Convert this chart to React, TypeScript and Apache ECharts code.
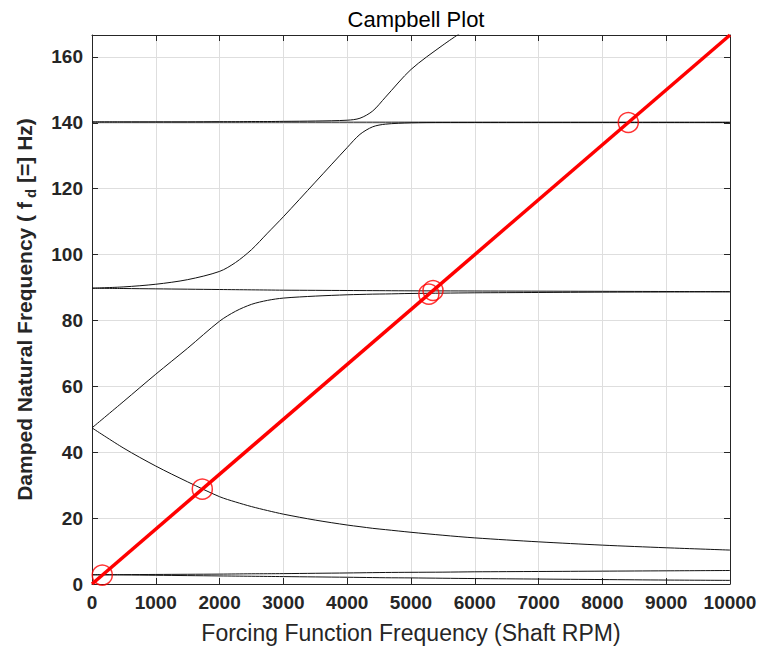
import React, { useEffect, useRef } from "react";
import * as echarts from "echarts";

const rpm = [0, 500, 1000, 1500, 2000, 2250, 2500, 2750, 3000, 3500, 4000, 4200, 4400, 4600, 5000, 5500, 6000, 7000, 8000, 9000, 10000];

const mode1Low = [2.8, 2.75, 2.65, 2.55, 2.45, 2.4, 2.35, 2.3, 2.25, 2.15, 2.05, 2.0, 1.95, 1.9, 1.85, 1.75, 1.65, 1.5, 1.35, 1.2, 1.1];
const mode1High = [2.8, 2.85, 2.9, 2.95, 3.0, 3.05, 3.1, 3.12, 3.15, 3.25, 3.35, 3.4, 3.45, 3.5, 3.55, 3.6, 3.7, 3.8, 3.9, 4.0, 4.1];
const mode2Low = [47.4, 41.2, 35.8, 31.0, 26.5, 24.9, 23.5, 22.3, 21.2, 19.4, 17.9, 17.4, 16.9, 16.5, 15.7, 14.8, 14.0, 12.8, 11.8, 11.0, 10.3];
const mode2High = [47.4, 55.5, 63.7, 71.6, 79.8, 82.8, 84.9, 86.1, 86.8, 87.4, 87.8, 87.9, 88.0, 88.05, 88.2, 88.3, 88.4, 88.5, 88.6, 88.65, 88.7];
const mode3Flat = [89.8, 89.7, 89.6, 89.5, 89.4, 89.35, 89.3, 89.25, 89.2, 89.15, 89.1, 89.08, 89.06, 89.04, 89.0, 88.98, 88.95, 88.9, 88.85, 88.8, 88.75];
const mode3Rise = [89.8, 90.2, 91.0, 92.4, 94.9, 97.6, 101.5, 106.5, 111.5, 122.0, 132.5, 136.5, 138.8, 139.6, 140.0, 140.1, 140.1, 140.1, 140.1, 140.1, 140.1];
const mode4Flat = [140.2, 140.2, 140.2, 140.2, 140.2, 140.2, 140.2, 140.2, 140.2, 140.2, 140.2, 140.2, 140.2, 140.2, 140.2, 140.2, 140.2, 140.2, 140.2, 140.2, 140.2];
const mode4Rise = [140.3, 140.3, 140.3, 140.3, 140.35, 140.35, 140.4, 140.4, 140.45, 140.55, 140.8, 141.4, 143.6, 147.8, 156.2, 163.6, 170.2, null, null, null, null];

const oneXLine = [[0, 0], [10000, 10000 / 60]];
const crossings = [[161, 2.7], [1729, 28.8], [5280, 88.0], [5345, 89.1], [8406, 140.1]];

const xTicksInterval = 1000;
const yTicksInterval = 20;

const FONT = "'Liberation Sans', Arial, Helvetica, sans-serif";
const AXIS_COLOR = "#262626";

const pair = (vals: (number | null)[]) => rpm.map((r, i) => [r, vals[i]]);

export default function App() {
  const ref = useRef<HTMLDivElement>(null);
  useEffect(() => {
    const chart = echarts.init(ref.current!, null, { renderer: "svg" });
    const curveStyle = { color: "#111111", width: 1 };
    const curves = [mode1Low, mode1High, mode2Low, mode2High, mode3Flat, mode3Rise, mode4Flat, mode4Rise].map((vals) => ({
      type: "line",
      data: pair(vals),
      showSymbol: false,
      smooth: 0.3,
      lineStyle: curveStyle,
      itemStyle: { color: "#111111" },
      connectNulls: false,
      z: 2,
    }));
    const baseAxisLine = { show: true, onZero: false, lineStyle: { color: AXIS_COLOR, width: 1 } };
    const baseTick = { show: true, inside: true, length: 6, lineStyle: { color: AXIS_COLOR, width: 1 } };
    const plain = (v: number) => String(Math.round(v));
    chart.setOption({
      animation: false,
      backgroundColor: "#ffffff",
      title: {
        text: "Campbell Plot",
        left: 411,
        top: 3,
        textAlign: "center",
        textStyle: { fontFamily: FONT, fontSize: 22, fontWeight: "normal", color: "#000" },
      },
      grid: { left: 92, right: 31, top: 35, bottom: 66, containLabel: false },
      xAxis: [
        {
          type: "value",
          min: 0,
          max: 10000,
          interval: xTicksInterval,
          position: "bottom",
          axisLine: baseAxisLine,
          axisTick: baseTick,
          axisLabel: { fontFamily: FONT, fontSize: 19, fontWeight: "bold", color: AXIS_COLOR, margin: 9, formatter: plain },
          splitLine: { show: true, lineStyle: { color: "#dedede", width: 1 } },
          name: "Forcing Function Frequency (Shaft RPM)",
          nameLocation: "middle",
          nameGap: 37,
          nameTextStyle: { fontFamily: FONT, fontSize: 23, color: AXIS_COLOR },
        },
        {
          type: "value",
          min: 0,
          max: 10000,
          interval: xTicksInterval,
          position: "top",
          axisLine: baseAxisLine,
          axisTick: baseTick,
          axisLabel: { show: false },
          splitLine: { show: false },
        },
      ],
      yAxis: [
        {
          type: "value",
          min: 0,
          max: 10000 / 60,
          interval: yTicksInterval,
          position: "left",
          axisLine: baseAxisLine,
          axisTick: baseTick,
          axisLabel: { fontFamily: FONT, fontSize: 19, fontWeight: "bold", color: AXIS_COLOR, margin: 9, showMaxLabel: false, formatter: plain },
          splitLine: { show: true, lineStyle: { color: "#dedede", width: 1 } },
          name: "{a|Damped Natural Frequency ( f}{s| d}{a| [=] Hz)}",
          nameLocation: "middle",
          nameRotate: 90,
          nameGap: 54,
          nameTextStyle: {
            fontFamily: FONT,
            fontSize: 21,
            fontWeight: "bold",
            color: AXIS_COLOR,
            rich: {
              a: { fontFamily: FONT, fontSize: 21, fontWeight: "bold", color: AXIS_COLOR },
              s: { fontFamily: FONT, fontSize: 15, fontWeight: "bold", color: AXIS_COLOR, padding: [12, 0, 0, 0] },
            },
          },
        },
        {
          type: "value",
          min: 0,
          max: 10000 / 60,
          interval: yTicksInterval,
          position: "right",
          axisLine: baseAxisLine,
          axisTick: baseTick,
          axisLabel: { show: false },
          splitLine: { show: false },
        },
      ],
      series: [
        ...curves,
        {
          type: "line",
          data: oneXLine,
          showSymbol: false,
          lineStyle: { color: "#ff0000", width: 3.5 },
          itemStyle: { color: "#ff0000" },
          z: 3,
        },
        {
          type: "scatter",
          data: crossings,
          symbol: "circle",
          symbolSize: 20,
          itemStyle: { color: "rgba(0,0,0,0)", borderColor: "#ff0000", borderWidth: 1.5 },
          z: 4,
        },
      ],
    });
    return () => chart.dispose();
  }, []);
  return <div ref={ref} style={{ position: "fixed", left: 0, top: 0, width: 761, height: 650 }} />;
}
